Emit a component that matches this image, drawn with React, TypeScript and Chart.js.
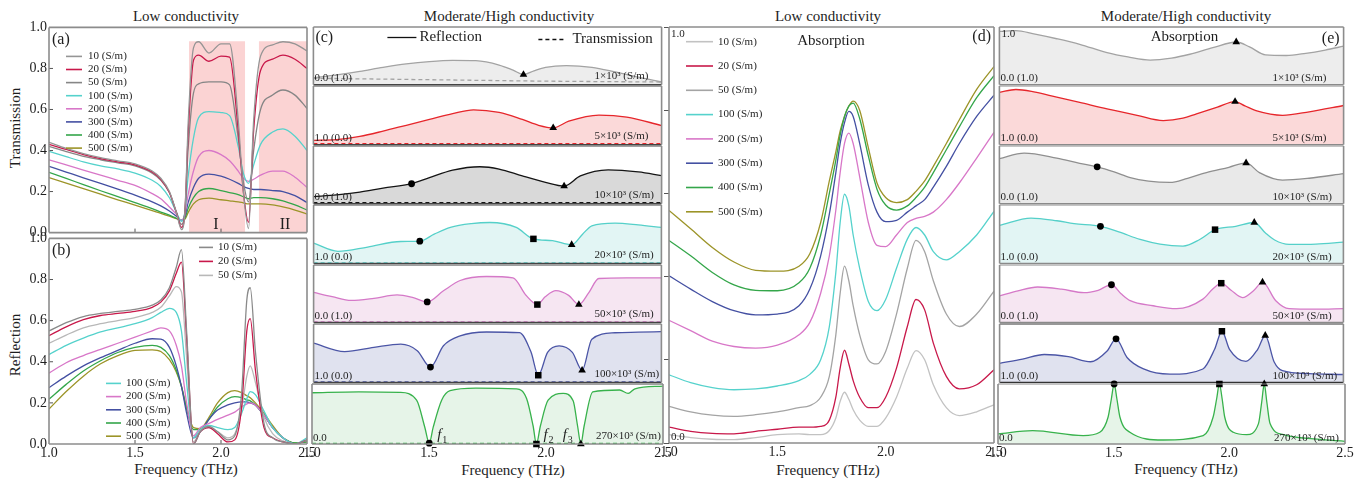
import React, { useEffect, useRef } from "react";
import { Chart, registerables } from "chart.js";

Chart.register(...registerables);

const SERIF = "'Liberation Serif', 'DejaVu Serif', serif";
const INK = "#1e1e1e";

// ================= axis ticks =================
const freqTicks = [1.0, 1.5, 2.0, 2.5];
const unitTicks = [0.0, 0.2, 0.4, 0.6, 0.8, 1.0];

// ================= labels =================
const lowSigma = ["10 (S/m)", "20 (S/m)", "50 (S/m)", "100 (S/m)", "200 (S/m)", "300 (S/m)", "400 (S/m)", "500 (S/m)"];
const highSigma = ["1×10³ (S/m)", "5×10³ (S/m)", "10×10³ (S/m)", "20×10³ (S/m)", "50×10³ (S/m)", "100×10³ (S/m)", "270×10³ (S/m)"];
const cLeftTags = ["0.0 (1.0)", "1.0 (0.0)", "0.0 (1.0)", "1.0 (0.0)", "0.0 (1.0)", "1.0 (0.0)", "0.0"];
const eLeftTags = ["0.0 (1.0)", "1.0 (0.0)", "0.0 (1.0)", "1.0 (0.0)", "0.0 (1.0)", "1.0 (0.0)", "0.0"];

// ================= panel (a): transmission, low conductivity =================
const freqA = [1.0, 1.1, 1.2, 1.3, 1.4, 1.5, 1.6, 1.65, 1.7, 1.74, 1.77, 1.79, 1.81, 1.84, 1.87, 1.93, 2.0, 2.05, 2.1, 2.13, 2.16, 2.19, 2.23, 2.3, 2.36, 2.43, 2.5];
const transA10 = [0.44, 0.41, 0.385, 0.365, 0.35, 0.335, 0.3, 0.265, 0.2, 0.1, 0.015, 0.1, 0.55, 0.9, 0.93, 0.875, 0.92, 0.92, 0.55, 0.2, 0.02, 0.55, 0.86, 0.915, 0.93, 0.92, 0.885];
const transA20 = [0.43, 0.405, 0.38, 0.36, 0.345, 0.33, 0.295, 0.26, 0.195, 0.1, 0.025, 0.1, 0.5, 0.84, 0.865, 0.835, 0.86, 0.855, 0.5, 0.2, 0.05, 0.5, 0.79, 0.845, 0.865, 0.845, 0.8];
const transA50 = [0.42, 0.395, 0.372, 0.355, 0.34, 0.325, 0.29, 0.255, 0.195, 0.1, 0.04, 0.1, 0.42, 0.68, 0.725, 0.735, 0.735, 0.72, 0.46, 0.25, 0.15, 0.4, 0.6, 0.67, 0.695, 0.67, 0.605];
const transA100 = [0.396, 0.37, 0.345, 0.325, 0.31, 0.29, 0.255, 0.225, 0.17, 0.1, 0.055, 0.1, 0.28, 0.46, 0.56, 0.59, 0.585, 0.57, 0.42, 0.29, 0.24, 0.33, 0.43, 0.49, 0.505, 0.47, 0.4];
const transA200 = [0.355, 0.33, 0.305, 0.28, 0.255, 0.23, 0.19, 0.165, 0.125, 0.09, 0.06, 0.09, 0.19, 0.3, 0.37, 0.4, 0.38, 0.35, 0.3, 0.265, 0.25, 0.26, 0.28, 0.3, 0.3, 0.27, 0.22];
const transA300 = [0.323, 0.295, 0.267, 0.24, 0.212, 0.183, 0.15, 0.13, 0.105, 0.08, 0.06, 0.08, 0.15, 0.22, 0.265, 0.285, 0.275, 0.26, 0.24, 0.225, 0.215, 0.21, 0.21, 0.205, 0.2, 0.18, 0.147];
const transA400 = [0.294, 0.264, 0.234, 0.204, 0.175, 0.146, 0.117, 0.1, 0.085, 0.07, 0.06, 0.07, 0.12, 0.17, 0.2, 0.215, 0.205, 0.195, 0.185, 0.175, 0.165, 0.17, 0.17, 0.165, 0.155, 0.135, 0.11];
const transA500 = [0.268, 0.241, 0.214, 0.187, 0.16, 0.134, 0.107, 0.094, 0.08, 0.068, 0.06, 0.065, 0.1, 0.14, 0.16, 0.168, 0.16, 0.155, 0.15, 0.145, 0.14, 0.14, 0.14, 0.135, 0.125, 0.11, 0.09];
const bandI = [1.814, 2.14];
const bandII = [2.22, 2.5];
const bandTop = 0.932;
const romanAt = [1.971, 2.372];
const romanLevel = 0.038;

// ================= panel (b): reflection, low conductivity =================
const freqB = [1.0, 1.1, 1.2, 1.3, 1.4, 1.5, 1.6, 1.65, 1.7, 1.74, 1.77, 1.8, 1.84, 1.88, 1.93, 1.98, 2.04, 2.08, 2.12, 2.15, 2.17, 2.2, 2.25, 2.3, 2.36, 2.43, 2.5];
const reflB10 = [0.55, 0.59, 0.62, 0.635, 0.645, 0.655, 0.675, 0.7, 0.76, 0.86, 0.945, 0.55, 0.0, 0.06, 0.085, 0.06, 0.02, 0.04, 0.25, 0.7, 0.76, 0.45, 0.1, 0.03, 0.01, 0.0, 0.02];
const reflB20 = [0.527, 0.57, 0.605, 0.625, 0.635, 0.645, 0.665, 0.69, 0.745, 0.83, 0.885, 0.52, 0.0, 0.06, 0.08, 0.05, 0.01, 0.02, 0.18, 0.55, 0.61, 0.36, 0.08, 0.03, 0.01, 0.0, 0.02];
const reflB50 = [0.49, 0.53, 0.565, 0.585, 0.6, 0.615, 0.64, 0.665, 0.72, 0.765, 0.74, 0.42, 0.01, 0.065, 0.08, 0.06, 0.03, 0.05, 0.17, 0.33, 0.38, 0.3, 0.13, 0.05, 0.015, 0.0, 0.02];
const reflB100 = [0.435, 0.48, 0.515, 0.545, 0.565, 0.585, 0.615, 0.64, 0.66, 0.64, 0.55, 0.3, 0.03, 0.07, 0.09, 0.08, 0.07, 0.08, 0.15, 0.22, 0.255, 0.24, 0.16, 0.08, 0.03, 0.0, 0.03];
const reflB200 = [0.345, 0.395, 0.43, 0.46, 0.49, 0.52, 0.55, 0.565, 0.55, 0.48, 0.38, 0.2, 0.04, 0.08, 0.1, 0.12, 0.14, 0.155, 0.18, 0.195, 0.2, 0.19, 0.14, 0.08, 0.03, 0.0, 0.02];
const reflB300 = [0.274, 0.33, 0.38, 0.42, 0.455, 0.49, 0.512, 0.51, 0.47, 0.38, 0.28, 0.15, 0.03, 0.06, 0.12, 0.165, 0.19, 0.2, 0.205, 0.205, 0.2, 0.19, 0.14, 0.08, 0.03, 0.0, 0.02];
const reflB400 = [0.218, 0.29, 0.355, 0.405, 0.445, 0.47, 0.48, 0.47, 0.43, 0.36, 0.28, 0.17, 0.07, 0.07, 0.12, 0.18, 0.22, 0.23, 0.225, 0.215, 0.21, 0.19, 0.14, 0.08, 0.03, 0.005, 0.01];
const reflB500 = [0.17, 0.255, 0.33, 0.39, 0.43, 0.455, 0.458, 0.45, 0.41, 0.35, 0.28, 0.18, 0.08, 0.075, 0.13, 0.2, 0.25, 0.26, 0.25, 0.235, 0.225, 0.2, 0.15, 0.09, 0.03, 0.005, 0.01];

// ================= panel (c): reflection / transmission, high conductivity =================
const cFreq1 = [1.0, 1.1, 1.2, 1.3, 1.4, 1.5, 1.6, 1.7, 1.8, 1.86, 1.905, 1.95, 2.0, 2.09, 2.2, 2.3, 2.4, 2.5];
const cRefl1 = [0.118, 0.17, 0.23, 0.3, 0.36, 0.4, 0.42, 0.415, 0.34, 0.25, 0.174, 0.24, 0.3, 0.33, 0.3, 0.22, 0.13, 0.045];
const cFreq2 = [1.0, 1.1, 1.2, 1.3, 1.4, 1.5, 1.6, 1.69, 1.8, 1.9, 1.97, 2.033, 2.1, 2.23, 2.35, 2.5];
const cRefl2 = [0.073, 0.085, 0.14, 0.23, 0.33, 0.43, 0.53, 0.594, 0.55, 0.43, 0.33, 0.286, 0.4, 0.504, 0.47, 0.325];
const cFreq3 = [1.0, 1.1, 1.2, 1.3, 1.423, 1.5, 1.6, 1.717, 1.8, 1.9, 2.0, 2.08, 2.15, 2.27, 2.4, 2.5];
const cRefl3 = [0.12, 0.15, 0.2, 0.27, 0.345, 0.45, 0.58, 0.64, 0.6, 0.48, 0.37, 0.305, 0.48, 0.585, 0.55, 0.485];
const cFreq4 = [1.0, 1.105, 1.233, 1.376, 1.458, 1.52, 1.59, 1.68, 1.76, 1.874, 1.948, 2.03, 2.113, 2.16, 2.2, 2.3, 2.4, 2.5];
const cRefl4 = [0.347, 0.207, 0.28, 0.375, 0.38, 0.5, 0.616, 0.68, 0.7, 0.616, 0.42, 0.39, 0.32, 0.5, 0.644, 0.69, 0.66, 0.616];
const cFreq5 = [1.0, 1.08, 1.162, 1.26, 1.36, 1.43, 1.49, 1.56, 1.632, 1.746, 1.86, 1.917, 1.965, 2.0, 2.045, 2.1, 2.144, 2.187, 2.23, 2.35, 2.5];
const cRefl5 = [0.524, 0.45, 0.384, 0.42, 0.479, 0.43, 0.356, 0.55, 0.73, 0.8, 0.776, 0.468, 0.311, 0.45, 0.552, 0.47, 0.311, 0.52, 0.765, 0.776, 0.776];
const cFreq6 = [1.0, 1.134, 1.26, 1.376, 1.447, 1.504, 1.56, 1.632, 1.746, 1.888, 1.938, 1.969, 2.009, 2.059, 2.116, 2.158, 2.2, 2.3, 2.4, 2.5];
const cRefl6 = [0.672, 0.527, 0.6, 0.655, 0.543, 0.263, 0.627, 0.796, 0.863, 0.851, 0.515, 0.123, 0.515, 0.627, 0.515, 0.207, 0.74, 0.85, 0.86, 0.868];
const cFreq7 = [1.0, 1.2, 1.376, 1.447, 1.482, 1.501, 1.518, 1.554, 1.59, 1.7, 1.874, 1.917, 1.945, 1.959, 1.976, 2.009, 2.073, 2.116, 2.135, 2.149, 2.163, 2.2, 2.315, 2.351, 2.38, 2.5];
const cRefl7 = [0.854, 0.87, 0.86, 0.73, 0.28, 0.014, 0.28, 0.73, 0.888, 0.93, 0.92, 0.76, 0.3, 0.0, 0.3, 0.73, 0.843, 0.72, 0.3, 0.0, 0.3, 0.87, 0.9, 0.843, 0.92, 0.966];
const cTransFreq = [1.0, 1.5, 2.0, 2.5];
const cTrans1 = [0.11, 0.085, 0.06, 0.045];
const cTrans2 = [0.015, 0.015, 0.015, 0.015];
const cTrans3 = [0.015, 0.015, 0.015, 0.015];
const cTrans4 = [0.01, 0.01, 0.01, 0.01];
const cTrans5 = [0.01, 0.01, 0.01, 0.01];
const cTrans6 = [0.01, 0.01, 0.01, 0.01];
const cTrans7 = [0.01, 0.01, 0.01, 0.01];
const cCircleAt = [null, null, 1.423, 1.458, 1.49, 1.504, 1.501];
const cSquareAt = [null, null, null, 1.948, 1.965, 1.969, 1.959];
const cTriangleAt = [1.905, 2.033, 2.08, 2.113, 2.144, 2.158, 2.149];

// ================= panel (d): absorption, low conductivity =================
const freqD = [1.0, 1.1, 1.2, 1.3, 1.4, 1.5, 1.6, 1.65, 1.7, 1.74, 1.77, 1.79, 1.81, 1.83, 1.85, 1.88, 1.92, 1.96, 2.0, 2.05, 2.1, 2.14, 2.18, 2.22, 2.28, 2.34, 2.42, 2.5];
const absD10 = [0.02, 0.013, 0.009, 0.008, 0.013, 0.02, 0.022, 0.02, 0.02, 0.03, 0.06, 0.1, 0.122, 0.105, 0.08, 0.055, 0.04, 0.04, 0.06, 0.11, 0.18, 0.222, 0.2, 0.14, 0.085, 0.066, 0.075, 0.092];
const absD20 = [0.038, 0.028, 0.023, 0.022, 0.028, 0.033, 0.038, 0.038, 0.04, 0.055, 0.11, 0.18, 0.223, 0.19, 0.15, 0.11, 0.085, 0.085, 0.11, 0.18, 0.28, 0.345, 0.32, 0.24, 0.16, 0.13, 0.14, 0.176];
const absD50 = [0.088, 0.075, 0.067, 0.064, 0.068, 0.075, 0.085, 0.09, 0.11, 0.16, 0.26, 0.36, 0.425, 0.39, 0.33, 0.26, 0.2, 0.19, 0.22, 0.31, 0.42, 0.487, 0.46, 0.39, 0.31, 0.28, 0.31, 0.365];
const absD100 = [0.164, 0.145, 0.133, 0.128, 0.13, 0.137, 0.15, 0.165, 0.2, 0.28, 0.41, 0.53, 0.598, 0.57, 0.5, 0.42, 0.34, 0.318, 0.345, 0.42, 0.49, 0.518, 0.5, 0.46, 0.44, 0.46, 0.5, 0.557];
const absD200 = [0.295, 0.27, 0.245, 0.232, 0.228, 0.235, 0.26, 0.29, 0.36, 0.45, 0.56, 0.65, 0.72, 0.745, 0.72, 0.64, 0.53, 0.475, 0.472, 0.5, 0.53, 0.54, 0.545, 0.555, 0.585, 0.625, 0.685, 0.747];
const absD300 = [0.402, 0.37, 0.34, 0.318, 0.308, 0.31, 0.33, 0.37, 0.45, 0.55, 0.65, 0.72, 0.77, 0.797, 0.785, 0.72, 0.62, 0.555, 0.532, 0.535, 0.555, 0.57, 0.585, 0.615, 0.665, 0.72, 0.785, 0.836];
const absD400 = [0.487, 0.45, 0.41, 0.38, 0.367, 0.366, 0.385, 0.42, 0.5, 0.6, 0.68, 0.74, 0.785, 0.81, 0.817, 0.78, 0.69, 0.61, 0.572, 0.56, 0.57, 0.59, 0.615, 0.65, 0.705, 0.76, 0.83, 0.883];
const absD500 = [0.559, 0.515, 0.47, 0.435, 0.415, 0.413, 0.425, 0.455, 0.53, 0.63, 0.7, 0.75, 0.785, 0.81, 0.822, 0.8, 0.71, 0.625, 0.59, 0.578, 0.585, 0.605, 0.63, 0.665, 0.72, 0.777, 0.85, 0.905];

// ================= panel (e): absorption, high conductivity =================
const eFreq1 = [1.0, 1.072, 1.15, 1.25, 1.35, 1.469, 1.56, 1.657, 1.75, 1.83, 1.93, 2.032, 2.09, 2.16, 2.25, 2.335, 2.42, 2.5];
const eAbs1 = [0.924, 0.936, 0.88, 0.796, 0.7, 0.555, 0.48, 0.426, 0.46, 0.527, 0.64, 0.74, 0.655, 0.515, 0.505, 0.543, 0.6, 0.667];
const eFreq2 = [1.0, 1.072, 1.15, 1.25, 1.35, 1.469, 1.6, 1.714, 1.8, 1.859, 1.95, 2.027, 2.07, 2.118, 2.234, 2.35, 2.5];
const eAbs2 = [0.893, 0.94, 0.9, 0.81, 0.72, 0.61, 0.5, 0.41, 0.45, 0.525, 0.64, 0.735, 0.66, 0.58, 0.5, 0.56, 0.667];
const eFreq3 = [1.0, 1.108, 1.25, 1.35, 1.426, 1.5, 1.57, 1.65, 1.743, 1.82, 1.902, 2.0, 2.075, 2.133, 2.234, 2.35, 2.5];
const eAbs3 = [0.78, 0.876, 0.79, 0.7, 0.638, 0.55, 0.45, 0.39, 0.367, 0.44, 0.537, 0.63, 0.706, 0.537, 0.407, 0.44, 0.52];
const eFreq4 = [1.0, 1.137, 1.25, 1.325, 1.44, 1.52, 1.613, 1.7, 1.8, 1.873, 1.94, 2.03, 2.111, 2.16, 2.2, 2.263, 2.38, 2.5];
const eAbs4 = [0.651, 0.776, 0.73, 0.68, 0.634, 0.54, 0.41, 0.33, 0.297, 0.41, 0.578, 0.634, 0.7, 0.52, 0.4, 0.325, 0.33, 0.364];
const eFreq5 = [1.0, 1.08, 1.166, 1.27, 1.368, 1.43, 1.488, 1.53, 1.57, 1.67, 1.772, 1.887, 1.93, 1.967, 2.01, 2.06, 2.11, 2.147, 2.205, 2.263, 2.38, 2.5];
const eAbs5 = [0.461, 0.55, 0.617, 0.58, 0.517, 0.56, 0.656, 0.5, 0.378, 0.29, 0.239, 0.406, 0.58, 0.683, 0.56, 0.433, 0.56, 0.7, 0.378, 0.239, 0.23, 0.239];
const eFreq6 = [1.0, 1.1, 1.195, 1.3, 1.397, 1.469, 1.508, 1.556, 1.628, 1.743, 1.887, 1.938, 1.97, 2.003, 2.075, 2.126, 2.159, 2.198, 2.234, 2.35, 2.5];
const eAbs6 = [0.326, 0.4, 0.478, 0.44, 0.354, 0.539, 0.747, 0.427, 0.23, 0.14, 0.23, 0.567, 0.876, 0.567, 0.36, 0.567, 0.803, 0.35, 0.2, 0.15, 0.135];
const eFreq7 = [1.0, 1.15, 1.368, 1.44, 1.476, 1.49, 1.502, 1.514, 1.527, 1.57, 1.714, 1.887, 1.93, 1.945, 1.957, 1.969, 1.98, 2.017, 2.075, 2.126, 2.14, 2.151, 2.162, 2.176, 2.234, 2.38, 2.5];
const eAbs7 = [0.168, 0.223, 0.14, 0.196, 0.45, 0.75, 1.0, 0.75, 0.45, 0.196, 0.067, 0.14, 0.45, 0.75, 1.0, 0.75, 0.45, 0.196, 0.156, 0.34, 0.7, 1.0, 0.7, 0.34, 0.156, 0.08, 0.045];
const eCircleAt = [null, null, 1.426, 1.44, 1.488, 1.508, 1.502];
const eSquareAt = [null, null, null, 1.94, 1.967, 1.97, 1.957];
const eTriangleAt = [2.032, 2.027, 2.075, 2.111, 2.147, 2.159, 2.151];

// ================= styles =================
const colorsA = ["#959595", "#c8184a", "#868686", "#55d2cc", "#d877c8", "#4450a2", "#34a64a", "#9c9428"];
const colorsB = ["#8a8a8a", "#c8184a", "#b8b8b8", "#55d2cc", "#d877c8", "#4450a2", "#34a64a", "#9c9428"];
const colorsD = ["#c2c2c2", "#c8184a", "#a4a4a4", "#55d2cc", "#d877c8", "#4450a2", "#34a64a", "#9c9428"];
const cLine = ["#a3a3a3", "#e6262b", "#141414", "#55d0c9", "#d579c8", "#4b55a6", "#38b24c"];
const cFill = ["#ededed", "#fbd9d9", "#d9d9d9", "#e2f5f4", "#f6e6f2", "#e0e2ef", "#e6f4e8"];
const eLine = ["#a3a3a3", "#e6262b", "#8f8f8f", "#55d0c9", "#d579c8", "#4b55a6", "#38b24c"];
const eFill = ["#ededed", "#fbd9d9", "#e9e9e9", "#e2f5f4", "#f6e6f2", "#e0e2ef", "#e6f4e8"];
const FRAME = "#8c8c8c";
const rowsY = [27, 86, 146, 205, 265, 324, 384, 444];

// ================= helpers =================
function curve(freq: number[], vals: number[], color: string, extra: any = {}) {
  return {
    data: freq.map((f, i) => ({ x: f, y: vals[i] })),
    borderColor: color,
    backgroundColor: color,
    borderWidth: 1.3,
    pointRadius: 0,
    fill: false,
    cubicInterpolationMode: "monotone",
    order: 1,
    ...extra,
  };
}

function marks(freq: number[], vals: number[], at: (number | null)[], style: string, radius: number) {
  const pts = at
    .filter((m) => m !== null && m !== undefined)
    .map((m) => {
      const i = freq.findIndex((f) => Math.abs(f - (m as number)) < 1e-9);
      return { x: freq[i], y: vals[i] };
    });
  return {
    data: pts,
    showLine: false,
    pointStyle: style,
    pointRadius: radius,
    pointBackgroundColor: "#000",
    pointBorderColor: "#000",
    pointBorderWidth: 0,
    clip: false,
    order: -1,
  };
}

function band(range: number[], top: number) {
  return {
    data: [
      { x: range[0], y: top },
      { x: range[1], y: top },
    ],
    borderWidth: 0,
    borderColor: "rgba(0,0,0,0)",
    backgroundColor: "rgba(244,140,140,0.38)",
    fill: "start",
    pointRadius: 0,
    order: 10,
  };
}

function txt(ctx: any, s: string, x: number, y: number, size = 11, align = "left", italic = false) {
  ctx.save();
  ctx.font = `${italic ? "italic " : ""}${size}px ${SERIF}`;
  ctx.fillStyle = INK;
  ctx.textAlign = align;
  ctx.textBaseline = "middle";
  ctx.fillText(s, x, y);
  ctx.restore();
}

function seg(ctx: any, x1: number, y1: number, x2: number, y2: number, color: string, w: number, dash: number[] = []) {
  ctx.save();
  ctx.strokeStyle = color;
  ctx.lineWidth = w;
  ctx.setLineDash(dash);
  ctx.beginPath();
  ctx.moveTo(x1, y1);
  ctx.lineTo(x2, y2);
  ctx.stroke();
  ctx.restore();
}

function drawLegend(ctx: any, labels: string[], colors: string[], x1: number, x2: number, tx: number, y0: number, dy: number) {
  labels.forEach((lab, i) => {
    const y = y0 + i * dy;
    seg(ctx, x1, y, x2, y, colors[i], 1.6);
    txt(ctx, lab, tx, y, 11, "left");
  });
}

function buildConfig(spec: any) {
  const { margin } = spec;
  const yW = spec.yW || 0;
  const xH = spec.xH || 0;
  return {
    type: "line",
    data: { datasets: spec.datasets },
    options: {
      responsive: false,
      maintainAspectRatio: false,
      animation: false,
      devicePixelRatio: 1,
      events: [],
      layout: { padding: { left: margin.l - yW, top: margin.t, right: margin.r, bottom: margin.b - xH } },
      plugins: { legend: { display: false }, tooltip: { enabled: false }, title: { display: false } },
      elements: { point: { radius: 0 }, line: { borderWidth: 1.3 } },
      scales: {
        x: {
          type: "linear",
          min: 1,
          max: 2.5,
          display: xH > 0,
          afterBuildTicks: (s: any) => {
            s.ticks = freqTicks.map((v) => ({ value: v }));
          },
          afterFit: (s: any) => {
            s.height = xH;
          },
          grid: { display: false, drawTicks: false },
          border: { display: false },
          ticks: {
            display: !!spec.xLabels,
            padding: 1,
            color: INK,
            font: { family: SERIF, size: 14 },
            maxRotation: 0,
            autoSkip: false,
            callback: (v: any) => Number(v).toFixed(1),
          },
        },
        y: {
          type: "linear",
          min: 0,
          max: 1,
          display: yW > 0,
          afterBuildTicks: (s: any) => {
            s.ticks = unitTicks.map((v) => ({ value: v }));
          },
          afterFit: (s: any) => {
            s.width = yW;
          },
          grid: spec.yOuter
            ? { display: true, drawOnChartArea: false, drawTicks: true, tickLength: yW, color: "#555", lineWidth: 1 }
            : { display: false, drawTicks: false },
          border: { display: false },
          ticks: {
            display: !!spec.yLabels,
            padding: 2,
            color: INK,
            font: { family: SERIF, size: 14 },
            callback: (v: any) => Number(v).toFixed(1),
          },
        },
      },
    },
    plugins: [
      {
        id: "deco",
        afterDraw(chart: any) {
          const ctx = chart.ctx;
          const a = chart.chartArea;
          const xs = chart.scales.x;
          const ys = chart.scales.y;
          if (spec.innerTicks) {
            freqTicks.forEach((v) => {
              const px = xs.getPixelForValue(v);
              if (px > a.left + 2 && px < a.right - 2) seg(ctx, px, a.bottom, px, a.bottom - 4, "#555", 1);
            });
            unitTicks.forEach((v) => {
              const py = ys.getPixelForValue(v);
              if (py > a.top + 2 && py < a.bottom - 2) seg(ctx, a.left, py, a.left + 4, py, "#555", 1);
            });
          }
          const fr = spec.frame;
          seg(ctx, a.left, a.top, a.right, a.top, fr.top, fr.topW || 1.6);
          seg(ctx, a.left, a.bottom, a.right, a.bottom, fr.bottom, fr.bottomW || 1.6);
          seg(ctx, a.left, a.top, a.left, a.bottom, fr.side, 1.6);
          seg(ctx, a.right, a.top, a.right, a.bottom, fr.side, 1.6);
          if (spec.annotate) spec.annotate(ctx, a, xs, ys);
        },
      },
    ],
  };
}

function PanelChart({ spec }: { spec: any }) {
  const ref = useRef<HTMLCanvasElement | null>(null);
  const { plot, margin } = spec;
  const w = plot.r - plot.l + margin.l + margin.r;
  const h = plot.b - plot.t + margin.t + margin.b;
  useEffect(() => {
    const chart = new Chart(ref.current as HTMLCanvasElement, buildConfig(spec) as any);
    return () => chart.destroy();
  }, [spec]);
  return (
    <canvas
      ref={ref}
      width={w}
      height={h}
      style={{ position: "absolute", left: plot.l - margin.l, top: plot.t - margin.t, width: w, height: h }}
    />
  );
}

// ================= specs =================
const fullFrame = { top: FRAME, bottom: FRAME, side: FRAME };

const specA = {
  plot: { l: 49, t: 27, r: 307, b: 233 },
  margin: { l: 49, t: 10, r: 4, b: 10 },
  yW: 47,
  xH: 0,
  yLabels: true,
  innerTicks: true,
  frame: fullFrame,
  datasets: [
    band(bandI, bandTop),
    band(bandII, bandTop),
    ...[transA10, transA20, transA50, transA100, transA200, transA300, transA400, transA500].map((v, i) =>
      curve(freqA, v, colorsA[i])
    ),
  ],
  annotate: (ctx: any, a: any, xs: any, ys: any) => {
    txt(ctx, "(a)", a.left + 3, a.top + 12, 16);
    txt(ctx, "I", xs.getPixelForValue(romanAt[0]), ys.getPixelForValue(romanLevel), 16, "center");
    txt(ctx, "II", xs.getPixelForValue(romanAt[1]), ys.getPixelForValue(romanLevel), 16, "center");
    drawLegend(ctx, lowSigma, colorsA, a.left + 17, a.left + 33, a.left + 39, a.top + 29, 13.1);
  },
};

const specB = {
  plot: { l: 49, t: 237, r: 307, b: 444 },
  margin: { l: 49, t: 9, r: 12, b: 24 },
  yW: 47,
  xH: 22,
  yLabels: true,
  xLabels: true,
  innerTicks: true,
  frame: fullFrame,
  datasets: [reflB10, reflB20, reflB50, reflB100, reflB200, reflB300, reflB400, reflB500].map((v, i) =>
    curve(freqB, v, colorsB[i])
  ),
  annotate: (ctx: any, a: any) => {
    txt(ctx, "(b)", a.left + 3, a.top + 12, 16);
    drawLegend(ctx, lowSigma.slice(0, 3), colorsB.slice(0, 3), a.left + 150, a.left + 164, a.left + 169, a.top + 9, 14);
    drawLegend(ctx, lowSigma.slice(3), colorsB.slice(3), a.left + 57, a.left + 72, a.left + 77, a.top + 145, 13.2);
  },
};

const specD = {
  plot: { l: 669, t: 27, r: 994, b: 443 },
  margin: { l: 14, t: 3, r: 14, b: 24 },
  yW: 5,
  xH: 22,
  xLabels: true,
  yOuter: true,
  frame: fullFrame,
  datasets: [absD10, absD20, absD50, absD100, absD200, absD300, absD400, absD500].map((v, i) =>
    curve(freqD, v, colorsD[i])
  ),
  annotate: (ctx: any, a: any) => {
    txt(ctx, "1.0", a.left + 2, a.top + 7, 11);
    txt(ctx, "0.0", a.left + 2, a.bottom - 6, 11);
    txt(ctx, "Absorption", a.left + 162, a.top + 14, 15, "center");
    txt(ctx, "(d)", a.right - 3, a.top + 10, 16, "right");
    drawLegend(ctx, lowSigma, colorsD, a.left + 17, a.left + 44, a.left + 49, a.top + 14.7, 24.3);
  },
};

const cSeries = [
  [cFreq1, cRefl1, cTrans1],
  [cFreq2, cRefl2, cTrans2],
  [cFreq3, cRefl3, cTrans3],
  [cFreq4, cRefl4, cTrans4],
  [cFreq5, cRefl5, cTrans5],
  [cFreq6, cRefl6, cTrans6],
  [cFreq7, cRefl7, cTrans7],
];
const eSeries = [
  [eFreq1, eAbs1],
  [eFreq2, eAbs2],
  [eFreq3, eAbs3],
  [eFreq4, eAbs4],
  [eFreq5, eAbs5],
  [eFreq6, eAbs6],
  [eFreq7, eAbs7],
];

function subFrame(i: number, sepColor: string) {
  return {
    side: FRAME,
    top: i === 0 ? FRAME : sepColor,
    bottom: i === 6 ? FRAME : sepColor,
    topW: i === 0 ? 1.6 : 1.2,
    bottomW: i === 6 ? 1.6 : 1.2,
  };
}

function subMargin(i: number) {
  if (i === 6) return { l: 14, t: 6, r: 14, b: 24 };
  return { l: 3, t: 6, r: 3, b: 3 };
}

const specsC = cSeries.map(([freq, refl, trans], i) => ({
  plot: { l: 312, t: rowsY[i], r: 663, b: rowsY[i + 1] },
  margin: subMargin(i),
  yW: 0,
  xH: i === 6 ? 22 : 0,
  xLabels: i === 6,
  frame: subFrame(i, "#444"),
  datasets: [
    marks(freq, refl, [cCircleAt[i]], "circle", 3.4),
    marks(freq, refl, [cSquareAt[i]], "rect", 4.6),
    marks(freq, refl, [cTriangleAt[i]], "triangle", 4.4),
    curve(cTransFreq, trans, cLine[i], { borderDash: [4, 3], order: 0, cubicInterpolationMode: "monotone" }),
    curve(freq, refl, cLine[i], { fill: "start", backgroundColor: cFill[i], order: 2 }),
  ],
  annotate: (ctx: any, a: any, xs: any) => {
    txt(ctx, cLeftTags[i], a.left + 1, a.bottom - 6, 11);
    txt(ctx, highSigma[i], a.right - 67, a.bottom - 8, 11);
    if (i === 0) {
      txt(ctx, "(c)", a.left + 2, a.top + 11, 16);
      seg(ctx, a.left + 74, a.top + 10.5, a.left + 103, a.top + 10.5, "#111", 1.3);
      txt(ctx, "Reflection", a.left + 106, a.top + 10.5, 15);
      seg(ctx, a.left + 225, a.top + 12.5, a.left + 253, a.top + 12.5, "#111", 1.3, [4, 3]);
      txt(ctx, "Transmission", a.left + 259, a.top + 12.5, 15);
    }
    if (i === 6) {
      const fl = [
        { f: cCircleAt[6] as number, dx: 8, sub: "1", right: false },
        { f: cSquareAt[6] as number, dx: 7, sub: "2", right: false },
        { f: cTriangleAt[6] as number, dx: -18, sub: "3", right: false },
      ];
      fl.forEach((o) => {
        const x = xs.getPixelForValue(o.f) + o.dx;
        txt(ctx, "f", x, a.bottom - 9, 15, "left", true);
        txt(ctx, o.sub, x + 5, a.bottom - 4, 10);
      });
    }
  },
}));

const specsE = eSeries.map(([freq, vals], i) => ({
  plot: { l: 998, t: rowsY[i], r: 1345, b: rowsY[i + 1] },
  margin: subMargin(i),
  yW: 0,
  xH: i === 6 ? 22 : 0,
  xLabels: i === 6,
  frame: subFrame(i, i === 5 ? "#333" : "#8a8a8a"),
  datasets: [
    marks(freq, vals, [eCircleAt[i]], "circle", 3.4),
    marks(freq, vals, [eSquareAt[i]], "rect", 4.6),
    marks(freq, vals, [eTriangleAt[i]], "triangle", 4.4),
    curve(freq, vals, eLine[i], { fill: "start", backgroundColor: eFill[i], order: 2 }),
  ],
  annotate: (ctx: any, a: any) => {
    txt(ctx, eLeftTags[i], a.left + 1, a.bottom - 6, 11);
    txt(ctx, highSigma[i], a.right - 71, a.bottom - 6, 11);
    if (i === 0) {
      txt(ctx, "1.0", a.left + 2, a.top + 7, 11);
      txt(ctx, "Absorption", a.left + 185, a.top + 10, 15, "center");
      txt(ctx, "(e)", a.right - 4, a.top + 12, 16, "right");
    }
  },
}));

// ================= page =================
function Label({ x, y, text, size = 15, rotate = false }: any) {
  return (
    <div
      style={{
        position: "absolute",
        left: x,
        top: y,
        transform: `translate(-50%, -50%)${rotate ? " rotate(-90deg)" : ""}`,
        fontFamily: SERIF,
        fontSize: size,
        lineHeight: 1,
        whiteSpace: "nowrap",
        color: INK,
      }}
    >
      {text}
    </div>
  );
}

export default function App() {
  return (
    <div
      style={{
        position: "absolute",
        left: 0,
        top: 0,
        width: 1364,
        height: 479,
        overflow: "hidden",
        background: "#ffffff",
      }}
    >
      <Label x={186} y={16} text="Low conductivity" />
      <Label x={509} y={16} text="Moderate/High conductivity" />
      <Label x={828} y={16} text="Low conductivity" />
      <Label x={1186} y={16} text="Moderate/High conductivity" />
      <Label x={15} y={128} text="Transmission" rotate />
      <Label x={15} y={345} text="Reflection" rotate />
      <Label x={186} y={469} text="Frequency (THz)" />
      <Label x={513} y={470} text="Frequency (THz)" />
      <Label x={828} y={470} text="Frequency (THz)" />
      <Label x={1186} y={469} text="Frequency (THz)" />
      <PanelChart spec={specA} />
      <PanelChart spec={specB} />
      {specsC.map((s, i) => (
        <PanelChart key={"c" + i} spec={s} />
      ))}
      <PanelChart spec={specD} />
      {specsE.map((s, i) => (
        <PanelChart key={"e" + i} spec={s} />
      ))}
    </div>
  );
}
